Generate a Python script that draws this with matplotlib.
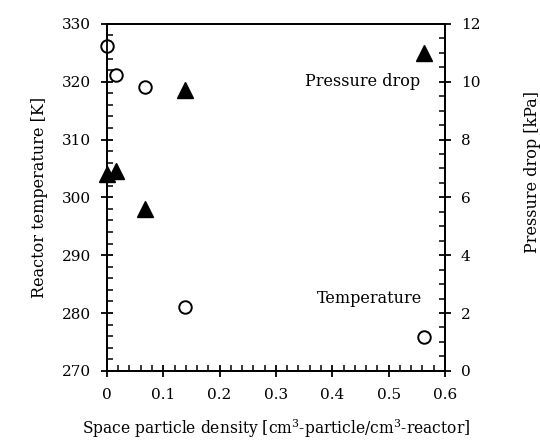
import matplotlib
matplotlib.use("Agg")
import matplotlib.pyplot as plt
from matplotlib.ticker import MultipleLocator, FuncFormatter

plt.rcParams['font.family'] = ['DejaVu Serif']
plt.rcParams['mathtext.fontset'] = 'dejavuserif'

# particle density [cm3-particle/cm3-reactor]
density = [0.0, 0.016, 0.067, 0.139, 0.563]
# reactor temperature [K]
temperature = [326.2, 321.2, 319.0, 281.1, 275.9]
# pressure drop [kPa]
pressure_drop = [6.8, 6.9, 5.6, 9.7, 11.0]

FS = 11.5

fig = plt.figure(figsize=(5.4, 4.41), dpi=100)
ax = fig.add_axes([0.198, 0.159, 0.626, 0.787])
ax2 = ax.twinx()

ax.plot(density, temperature, 'o', mfc='white', mec='black', mew=1.4, ms=9, clip_on=False, zorder=5)
ax2.plot(density, pressure_drop, '^', color='black', ms=11, clip_on=False, zorder=5)

ax.set_xlim(0, 0.6)
ax.set_ylim(270, 330)
ax2.set_ylim(0, 12)

ax.xaxis.set_major_locator(MultipleLocator(0.1))
ax.xaxis.set_minor_locator(MultipleLocator(0.02))
ax.yaxis.set_major_locator(MultipleLocator(10))
ax.yaxis.set_minor_locator(MultipleLocator(2))
ax2.yaxis.set_major_locator(MultipleLocator(2))
ax2.yaxis.set_minor_locator(MultipleLocator(0.5))

ax.xaxis.set_major_formatter(FuncFormatter(lambda v, p: '0' if abs(v) < 1e-9 else '%g' % v))

for a in (ax, ax2):
    for s in a.spines.values():
        s.set_linewidth(1.3)
    a.tick_params(which='major', direction='inout', length=9, width=1.3, labelsize=11, pad=7)
    a.tick_params(which='minor', direction='in', length=4, width=1.1)
ax.tick_params(top=False, right=False, which='both')
ax.tick_params(axis='x', which='major', pad=8)

ax.set_xlabel('Space particle density [cm$^3$-particle/cm$^3$-reactor]', fontsize=11.2, labelpad=11)
ax.set_ylabel('Reactor temperature [K]', fontsize=FS, labelpad=10)
fig.text(0.987, 0.61, 'Pressure drop [kPa]', rotation=90, fontsize=FS, ha='center', va='center')

ax.text(0.556, 320.0, 'Pressure drop', ha='right', va='center', fontsize=FS)
ax.text(0.560, 282.5, 'Temperature', ha='right', va='center', fontsize=FS)

fig.savefig('out.png', dpi=100)
